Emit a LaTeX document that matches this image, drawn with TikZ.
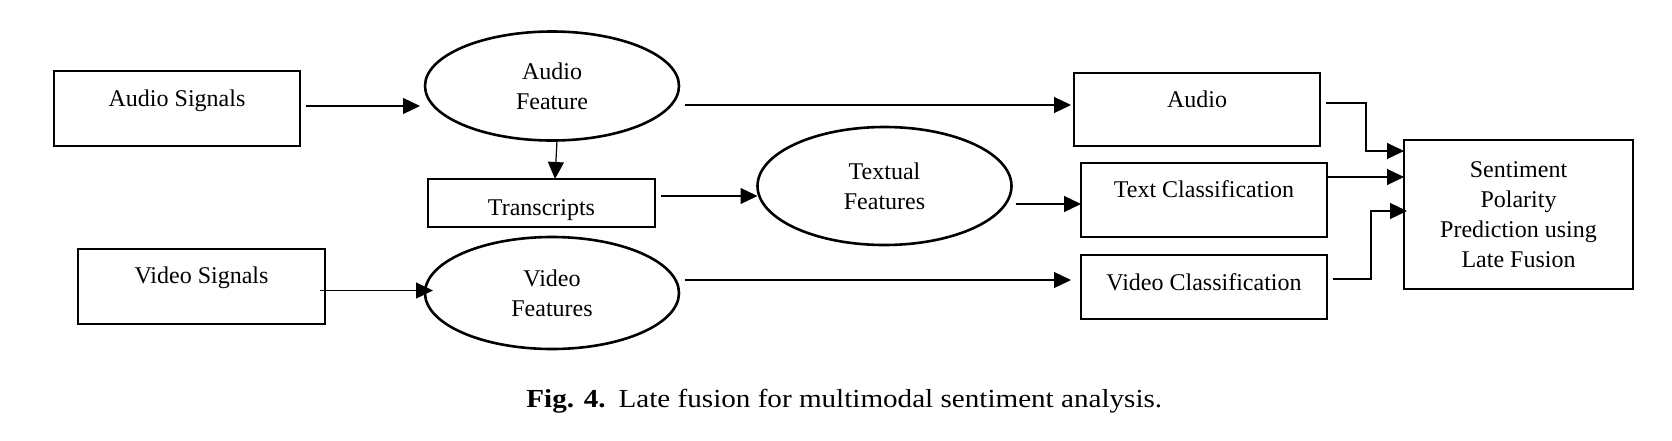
\documentclass[tikz,border=0pt]{standalone}
\usepackage{fontspec}
\setmainfont{Liberation Serif}
\newfontfamily\capfont[FakeStretch=1.12]{Liberation Serif}
\usetikzlibrary{arrows.meta,shapes.geometric,calc}
\begin{document}
\begin{tikzpicture}[x=0.5pt,y=-0.5pt,
  every node/.style={font=\fontsize{12}{15}\selectfont},
  sbox/.style={draw,line width=1.3pt,inner sep=0pt,outer sep=0pt,anchor=north west,align=center},
  ell/.style={ellipse,draw,line width=1.3pt,inner sep=0pt,outer sep=0pt,minimum width=127pt,align=center},
  arr/.style={line width=0.6pt,-{Triangle[length=8.5pt,width=8pt]}}]
\useasboundingbox (0,0) rectangle (1672,440);

% boxes
\node[sbox,minimum width=123pt,text height=17.5pt,text depth=20pt] (as) at (54,71) {Audio Signals};
\node[sbox,minimum width=123.5pt,text height=17pt,text depth=20.5pt] (vs) at (78,249) {Video Signals};
\node[sbox,minimum width=113.5pt,text height=18pt,text depth=6pt] (tr) at (428,179) {Transcripts};
\node[sbox,minimum width=123pt,text height=17pt,text depth=19.5pt] (audio) at (1074,73) {Audio};
\node[sbox,minimum width=123pt,text height=17pt,text depth=20pt] (tc) at (1081,163) {Text Classification};
\node[sbox,minimum width=123pt,text height=17.5pt,text depth=14.5pt] (vc) at (1081,255) {Video Classification};
\node[sbox,minimum width=114.5pt,minimum height=74.5pt] (sent) at (1404,140) {Sentiment\\Polarity\\Prediction using\\Late Fusion};

% ellipses
\node[ell,minimum height=54.5pt] (af) at (552,86) {Audio\\Feature};
\node[ell,minimum height=56pt] (vf) at (552,293) {Video\\Features};
\node[ell,minimum height=59pt] (tf) at (884.5,186) {Textual\\Features};

% connectors
\coordinate (a1) at ([xshift=3pt,yshift=1.25pt]as.east);
\draw[arr] (a1) -- ($(a1 -| af.west)+(-5,0)$);

\coordinate (a2) at ([xshift=2.5pt]af.south);
\draw[arr] (a2) -- ([xshift=6.75pt]tr.north);

\coordinate (a3) at ([xshift=3pt,yshift=3.5pt]tr.east);
\draw[arr] (a3) -- (a3 -| tf.west);

\coordinate (a4) at ([xshift=2pt,yshift=-9pt]tf.east);
\draw[arr] (a4) -- (a4 -| tc.west);

\coordinate (a5) at ([xshift=3pt,yshift=-9.5pt]af.east);
\draw[arr] (a5) -- ($(a5 -| audio.west)+(-3,0)$);

\coordinate (a6) at ([xshift=-2.5pt,yshift=-2pt]vs.east);
\draw[arr] (a6) -- ($(a6 -| vf.west)+(8,0)$);

\coordinate (a7) at ([xshift=3pt,yshift=6.5pt]vf.east);
\draw[arr] (a7) -- ($(a7 -| vc.west)+(-10,0)$);

\coordinate (a8) at ([xshift=3pt,yshift=3.25pt]audio.east);
\draw[arr] (a8) -- ++(40,0) |- ([yshift=-5.5pt]sent.north west);

\coordinate (a9) at ([yshift=11.5pt]tc.east);
\draw[arr] (a9) -- (a9 -| sent.west);

\coordinate (a10) at ([xshift=3pt,yshift=4pt]vc.east);
\draw[arr] (a10) -- ++(38,0) |- ([xshift=1.5pt,yshift=1.75pt]sent.west);

% caption
\node[anchor=base west,inner sep=0pt,font=\capfont\fontsize{13}{15}\selectfont] (cap) at (526,407)
  {\textbf{Fig. 4.}\hspace{6.5pt}Late fusion for multimodal sentiment analysis.};
\end{tikzpicture}
\end{document}
